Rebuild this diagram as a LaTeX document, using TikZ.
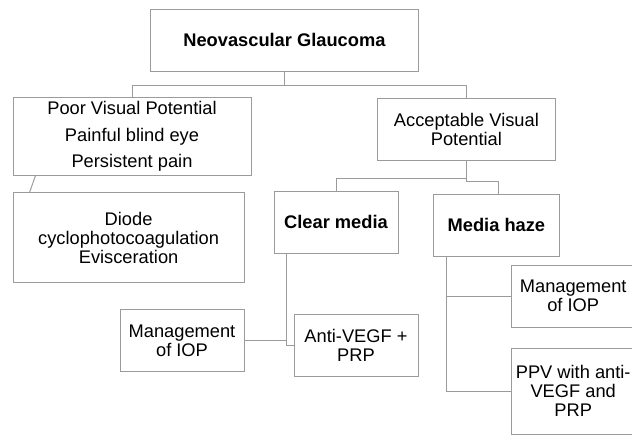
\documentclass[tikz,border=0pt]{standalone}
\usepackage{xcolor}
\usepackage{fontspec}
\setmainfont{Liberation Sans}
\usepackage{tikz}
\usetikzlibrary{positioning, calc}
\definecolor{linegray}{RGB}{155, 155, 155}

\begin{document}
\begin{tikzpicture}[
    every node/.style={font=\fontsize{13}{13.5}\selectfont},
    box/.style={
        rectangle,
        draw=linegray,
        line width=0.7pt,
        fill=white,
        text=black,
        align=center,
        inner sep=0pt,
        minimum width=3.1cm,
        minimum height=1.55cm
    },
    boldbox/.style={
        box,
        font=\fontsize{13}{13.5}\selectfont\bfseries
    },
    link/.style={
        line width=0.7pt,
        draw=linegray
    }
]

% fixes the page size and cuts the boxes on the right edge
\clip (0, 0) rectangle (15.8, -10.85);

% ==================== TOP: DIAGNOSIS ====================
\node (glaucoma) [boldbox, minimum width=6.68cm, minimum height=1.53cm] at (7.11, -1.01) {Neovascular Glaucoma};

% ==================== LEFT BRANCH: POOR POTENTIAL ====================
\node (poor_vision) [box, minimum width=5.95cm, minimum height=1.93cm] at (3.30, -3.41) {
    Poor Visual Potential \\[5.5pt]
    Painful blind eye \\[5.5pt]
    Persistent pain
};
\node (cyclo) [box, minimum width=5.78cm, minimum height=2.25cm, below right=0.425cm and 0cm of poor_vision.south west] {
    Diode \\
    cyclophotocoagulation \\
    Evisceration
};

% ==================== RIGHT BRANCH: ACCEPTABLE POTENTIAL ====================
\node (good_vision) [box, minimum width=4.43cm] at (11.66, -3.23) {Acceptable Visual\\Potential};
\node (clear_media) [boldbox] at (8.40, -5.55) {Clear media};
\node (media_haze) [boldbox, minimum width=3.13cm] at (12.41, -5.63) {Media haze};

% clear media treatments
\node (iop_left) [box, minimum height=1.53cm] at (4.55, -8.51) {Management\\of IOP};
\node (vegf_prp) [box] at (8.90, -8.63) {Anti-VEGF +\\PRP};

% media haze treatments
\node (iop_right) [box] at (14.33, -7.40) {Management\\of IOP};
\node (ppv) [box, minimum height=2.15cm, below=0.5cm of iop_right] {PPV with anti-\\VEGF and\\PRP};

% ==================== CONNECTIONS ====================

% Diagnosis to both potentials
\coordinate (split_top) at ($(glaucoma.south) + (0, -0.35)$);
\draw [link] (glaucoma.south) -- (split_top) -| (poor_vision.north);
\draw [link] (split_top) -| (good_vision.north);

% Poor potential to its treatment
\draw [link] ([xshift=0.575cm]poor_vision.south west) -- ([xshift=0.425cm]cyclo.north west);

% Acceptable potential to media
\draw [link] (good_vision.south) -- ++(0, -0.45) -| (clear_media.north);
\draw [link] (good_vision.south) -- ++(0, -0.525) -| ([xshift=0.04cm]media_haze.north);

% Clear media to its treatments
\coordinate (clear_stem) at ([xshift=-1.25cm]clear_media.south);
\draw [link] (clear_stem) |- (vegf_prp.west);
\draw [link] (iop_left.east) -- (iop_left.east -| clear_stem);

% Media haze to its treatments
\coordinate (haze_stem) at ([xshift=0.33cm]media_haze.south west);
\draw [link] (haze_stem) |- (ppv.west);
\draw [link] (haze_stem |- iop_right.west) -- (iop_right.west);

\end{tikzpicture}
\end{document}
